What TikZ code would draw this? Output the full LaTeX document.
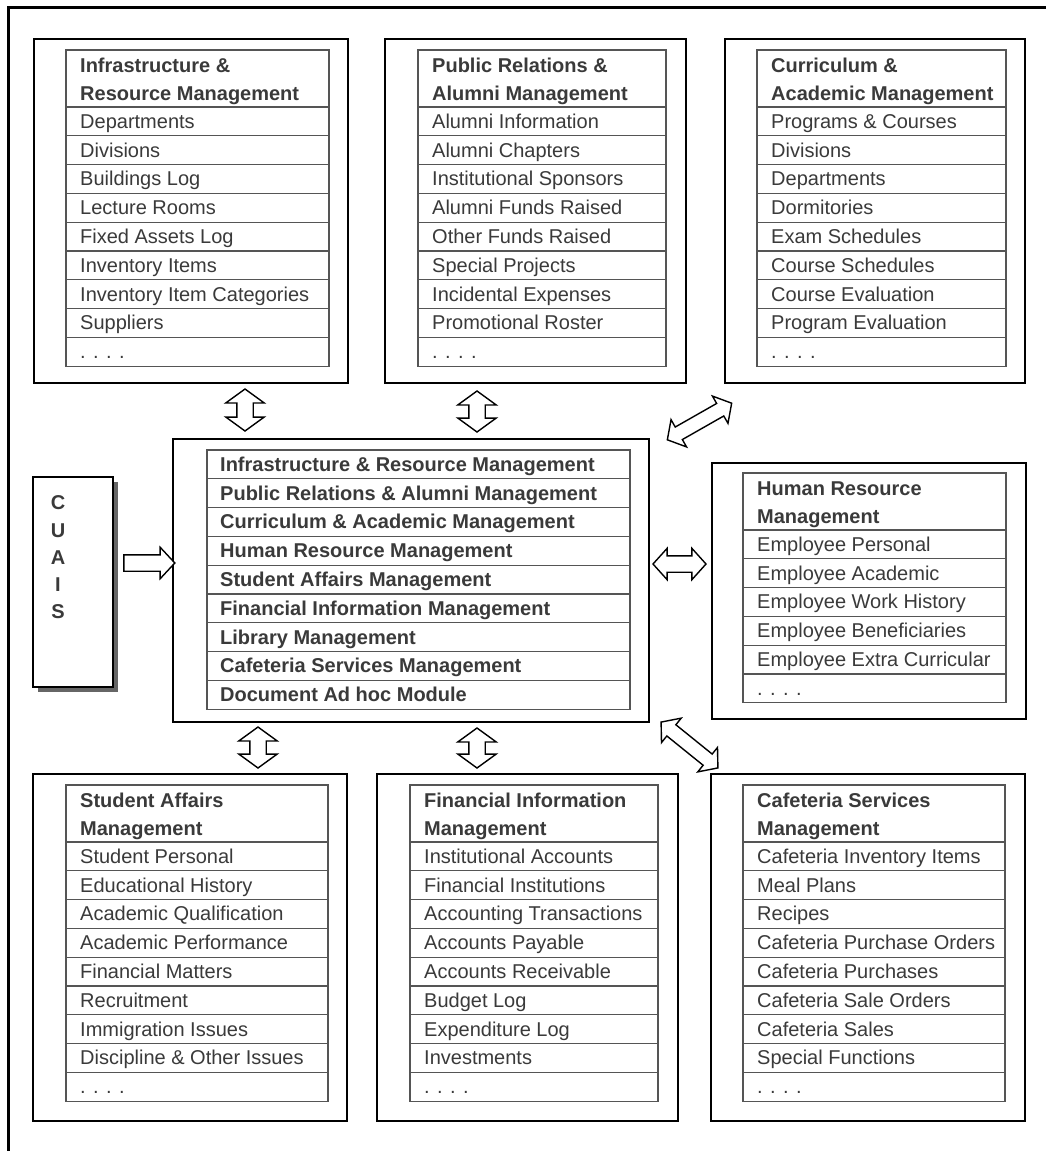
\documentclass[tikz,border=0pt]{standalone}
\usepackage{fontspec}
\setmainfont{Liberation Sans}
\usetikzlibrary{shapes.arrows,calc,shadows}
\definecolor{txt}{HTML}{3A3A3A}
\definecolor{tl}{HTML}{555555}
\tikzset{
  obox/.style={draw=black, line width=2.4pt, anchor=north west, inner sep=0pt, outer sep=0pt},
  tframe/.style={draw=tl, line width=1.3pt, anchor=north west, inner sep=0pt, outer sep=0pt},
  rowline/.style={draw=tl, line width=1.3pt},
  item/.style={anchor=base west, inner sep=0pt, text=txt, font=\fontsize{20}{24}\selectfont},
  titem/.style={item, font=\fontsize{20}{24}\selectfont\bfseries},
  varrow/.style={double arrow, draw=black, fill=white, line width=1.4pt, inner sep=7.5pt,
    double arrow head extend=11pt, double arrow tip angle=108, sloped},
  harrow/.style={double arrow, draw=black, fill=white, line width=1.4pt, inner sep=7.5pt,
    double arrow head extend=7.5pt, double arrow tip angle=96, sloped},
  darrow/.style={double arrow, draw=black, fill=white, line width=1.4pt, inner sep=6.5pt,
    double arrow head extend=8.5pt, double arrow tip angle=100, sloped},
  sarrow/.style={single arrow, draw=black, fill=white, line width=1.4pt, inner sep=7.5pt,
    single arrow head extend=7.5pt, single arrow tip angle=94, sloped}
}
\newcommand\dbtable[8]{%
  \node[tframe, minimum width={#4-#2}, minimum height={57+#5*28.8}] (#1) at (#2,#3) {};
  \node[titem] at ({#2+14},{#3+22}) {#6};
  \node[titem] at ({#2+14},{#3+50}) {#7};
  \foreach \itm [count=\i] in {#8} {
    \draw[rowline] ({#2},{#3+57+(\i-1)*28.8}) -- ({#4},{#3+57+(\i-1)*28.8});
    \node[item] at ({#2+14},{#3+57+\i*28.8-7.5}) {\itm};
  }
}
\begin{document}
\begin{tikzpicture}[x=1pt,y=-1pt]
\useasboundingbox[fill=white] (0,0) rectangle (1046,1151);
\draw[line width=3pt] (8,1200) -- (8,7) -- (1100,7);

% outer boxes
\node[obox, minimum width=314, minimum height=344] (B1) at (34,39) {};
\node[obox, minimum width=301, minimum height=344] (B2) at (385,39) {};
\node[obox, minimum width=300, minimum height=344] (B3) at (725,39) {};
\node[obox, minimum width=476, minimum height=283] (C) at (173,439) {};
\node[obox, minimum width=314, minimum height=256] (HR) at (712,463) {};
\node[obox, minimum width=314, minimum height=347] (B4) at (33,774) {};
\node[obox, minimum width=301, minimum height=347] (B5) at (377,774) {};
\node[obox, minimum width=314, minimum height=347] (B6) at (711,774) {};

% CUAIS
\node[draw=black, line width=1.8pt, fill=white, anchor=north west, inner sep=0pt, outer sep=0pt,
  minimum width=80, minimum height=210,
  drop shadow={shadow xshift=5pt, shadow yshift=-5pt, fill=black!60, opacity=1}] (CU) at (33,477) {};
\node[text=txt, font=\fontsize{20}{27.3}\selectfont\bfseries, align=center, inner sep=0pt]
  (CUT) at ($(CU.center)+(-15,-24.5)$) {C\\U\\A\\I\\S};

% tables
\dbtable{T1}{66}{50}{329}{9}{Infrastructure \&}{Resource Management}%
  {Departments, Divisions, Buildings Log, Lecture Rooms, Fixed Assets Log, Inventory Items, Inventory Item Categories, Suppliers, {. . . .}}
\dbtable{T2}{418}{50}{666}{9}{Public Relations \&}{Alumni Management}%
  {Alumni Information, Alumni Chapters, Institutional Sponsors, Alumni Funds Raised, Other Funds Raised, Special Projects, Incidental Expenses, Promotional Roster, {. . . .}}
\dbtable{T3}{757}{50}{1006}{9}{Curriculum \&}{Academic Management}%
  {Programs \& Courses, Divisions, Departments, Dormitories, Exam Schedules, Course Schedules, Course Evaluation, Program Evaluation, {. . . .}}
\dbtable{T7}{743}{473}{1006}{6}{Human Resource}{Management}%
  {Employee Personal, Employee Academic, Employee Work History, Employee Beneficiaries, Employee Extra Curricular, {. . . .}}
\dbtable{T4}{66}{785}{328}{9}{Student Affairs}{Management}%
  {Student Personal, Educational History, Academic Qualification, Academic Performance, Financial Matters, Recruitment, Immigration Issues, Discipline \& Other Issues, {. . . .}}
\dbtable{T5}{410}{785}{658}{9}{Financial Information}{Management}%
  {Institutional Accounts, Financial Institutions, Accounting Transactions, Accounts Payable, Accounts Receivable, Budget Log, Expenditure Log, Investments, {. . . .}}
\dbtable{T6}{743}{785}{1005}{9}{Cafeteria Services}{Management}%
  {Cafeteria Inventory Items, Meal Plans, Recipes, Cafeteria Purchase Orders, Cafeteria Purchases, Cafeteria Sale Orders, Cafeteria Sales, Special Functions, {. . . .}}

% central table
\node[tframe, minimum width=423, minimum height=259.2] (CT) at (207,450) {};
\foreach \itm [count=\i] in {Infrastructure \& Resource Management, Public Relations \& Alumni Management, Curriculum \& Academic Management, Human Resource Management, Student Affairs Management, Financial Information Management, Library Management, Cafeteria Services Management, Document Ad hoc Module} {
  \draw[rowline] (207,{450+(\i-1)*28.8}) -- (630,{450+(\i-1)*28.8});
  \node[titem] at (220,{450+\i*28.8-7.5}) {\itm};
}

% arrows
\path ($(CU.north east)+(7,86)$) -- ($(C.north west)+(-2,124)$) node[midway, sarrow, minimum height=51] (A0) {};
\path ($(B1.south west)+(211,6)$) -- ($(C.north west)+(72,-8)$) node[midway, varrow, minimum height=42] (A1) {};
\path ($(B2.south west)+(92,8)$) -- ($(C.north west)+(304,-7)$) node[midway, varrow, minimum height=41] (A2) {};
\path ($(C.north east)+(18,1)$) -- ($(B3.south west)+(7,20)$) node[midway, darrow, minimum height=74] (A3) {};
\path ($(C.north east)+(4,125)$) -- ($(HR.north west)+(-6,101)$) node[midway, harrow, minimum height=53] (A4) {};
\path ($(C.south west)+(85,5)$) -- ($(B4.north west)+(225,-6)$) node[midway, varrow, minimum height=41] (A5) {};
\path ($(C.south west)+(304,6)$) -- ($(B5.north west)+(100,-6)$) node[midway, varrow, minimum height=40] (A6) {};
\path ($(C.south east)+(12,0)$) -- ($(B6.north west)+(7,-6)$) node[midway, darrow, minimum height=73] (A7) {};
\end{tikzpicture}
\end{document}
